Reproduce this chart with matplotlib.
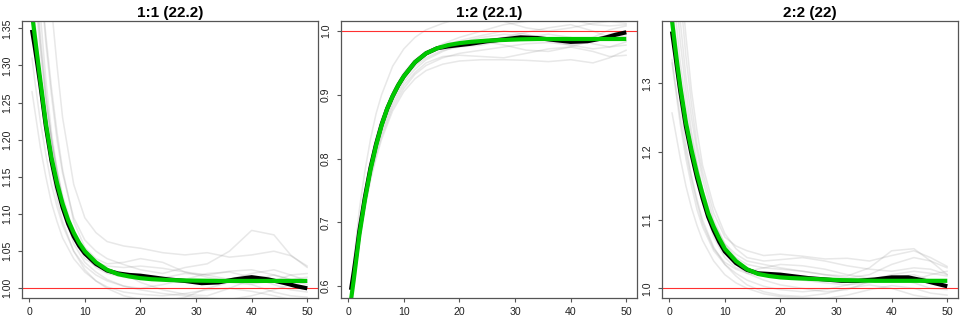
import matplotlib
matplotlib.use("Agg")
import matplotlib.pyplot as plt

plt.rcParams['font.family'] = ['Liberation Sans', 'DejaVu Sans']

# ---- data -------------------------------------------------------------------
titles = ["1:1 (22.2)", "1:2 (22.1)", "2:2 (22)"]

# grid for the mean (black) and fitted (green) curves
x_main = [0.5, 1, 1.5, 2, 3, 4, 5, 6, 7, 8, 9, 10, 12, 14, 16, 18, 20, 22,
          25, 28, 31, 34, 37, 40, 43, 46, 48, 50]

# grid for the individual (grey) curves
x_ind = [0.5, 1, 2, 3, 4, 5, 6, 8, 10, 12, 14, 17, 20, 24, 28, 32, 36, 40,
         44, 47, 50]

mean_11 = [1.348, 1.325, 1.300, 1.274, 1.218, 1.172, 1.137, 1.109, 1.087, 1.070,
           1.057, 1.047, 1.033, 1.024, 1.020, 1.018, 1.017, 1.015, 1.012, 1.010,
           1.007, 1.008, 1.012, 1.015, 1.012, 1.007, 1.003, 1.000]
fit_11 = [1.370, 1.340, 1.310, 1.280, 1.222, 1.176, 1.142, 1.114, 1.092, 1.075,
          1.061, 1.050, 1.035, 1.025, 1.019, 1.016, 1.0137, 1.0123, 1.0112, 1.0106,
          1.0103, 1.010, 1.010, 1.010, 1.010, 1.010, 1.010, 1.010]

mean_12 = [0.594, 0.622, 0.653, 0.686, 0.739, 0.785, 0.822, 0.853, 0.878, 0.898,
           0.915, 0.929, 0.951, 0.965, 0.973, 0.976, 0.978, 0.980, 0.984, 0.987,
           0.990, 0.989, 0.986, 0.983, 0.984, 0.989, 0.994, 0.998]
fit_12 = [0.578, 0.610, 0.645, 0.680, 0.735, 0.782, 0.820, 0.852, 0.878, 0.898,
          0.915, 0.929, 0.951, 0.965, 0.973, 0.978, 0.981, 0.983, 0.985, 0.986,
          0.987, 0.9875, 0.9875, 0.9875, 0.9875, 0.9875, 0.9875, 0.9875]

mean_22 = [1.376, 1.347, 1.317, 1.288, 1.237, 1.197, 1.162, 1.132, 1.105, 1.085,
           1.068, 1.054, 1.037, 1.027, 1.022, 1.021, 1.020, 1.018, 1.015, 1.013,
           1.011, 1.011, 1.013, 1.016, 1.016, 1.011, 1.007, 1.003]
fit_22 = [1.392, 1.358, 1.325, 1.295, 1.243, 1.203, 1.168, 1.138, 1.110, 1.090,
          1.073, 1.058, 1.040, 1.028, 1.021, 1.018, 1.016, 1.015, 1.014, 1.013,
          1.012, 1.0115, 1.011, 1.011, 1.011, 1.011, 1.011, 1.011]

ind_11 = [
    [1.265, 1.24, 1.19, 1.15, 1.115, 1.09, 1.068, 1.04, 1.022, 1.010, 1.002, 0.995, 0.992, 0.990, 0.993, 0.998, 1.000, 0.996, 0.990, 0.985, 0.982],
    [1.31, 1.28, 1.225, 1.18, 1.14, 1.11, 1.085, 1.05, 1.03, 1.018, 1.010, 1.003, 0.998, 0.993, 0.990, 0.987, 0.985, 0.990, 0.998, 1.005, 1.008],
    [1.45, 1.40, 1.32, 1.25, 1.20, 1.16, 1.125, 1.075, 1.045, 1.028, 1.020, 1.015, 1.012, 1.014, 1.020, 1.018, 1.012, 1.020, 1.025, 1.018, 1.010],
    [1.55, 1.48, 1.37, 1.28, 1.21, 1.16, 1.12, 1.068, 1.040, 1.030, 1.026, 1.020, 1.008, 0.998, 0.992, 0.990, 1.000, 1.012, 1.018, 1.012, 1.005],
    [1.70, 1.65, 1.56, 1.47, 1.38, 1.30, 1.23, 1.14, 1.095, 1.075, 1.063, 1.057, 1.054, 1.048, 1.045, 1.048, 1.042, 1.045, 1.050, 1.044, 1.030],
    [1.60, 1.53, 1.42, 1.33, 1.26, 1.20, 1.155, 1.095, 1.065, 1.050, 1.040, 1.032, 1.025, 1.020, 1.028, 1.033, 1.050, 1.078, 1.072, 1.045, 1.028],
    [1.50, 1.44, 1.34, 1.26, 1.20, 1.15, 1.11, 1.06, 1.035, 1.022, 1.012, 1.003, 1.000, 1.005, 1.012, 1.020, 1.022, 1.015, 1.005, 0.998, 0.995],
    [1.58, 1.52, 1.42, 1.34, 1.27, 1.21, 1.16, 1.09, 1.055, 1.040, 1.033, 1.035, 1.040, 1.035, 1.022, 1.015, 1.010, 1.006, 1.010, 1.018, 1.020],
    [1.40, 1.36, 1.29, 1.22, 1.16, 1.12, 1.09, 1.05, 1.025, 1.010, 1.000, 0.990, 0.985, 0.983, 0.988, 1.000, 1.008, 1.005, 0.995, 0.990, 0.988],
    [1.48, 1.42, 1.33, 1.26, 1.20, 1.155, 1.12, 1.07, 1.045, 1.035, 1.030, 1.028, 1.030, 1.027, 1.022, 1.018, 1.023, 1.025, 1.018, 1.012, 1.015],
]

ind_12 = [
    [0.585, 0.62, 0.69, 0.745, 0.79, 0.826, 0.856, 0.90, 0.93, 0.95, 0.965, 0.980, 0.990, 1.000, 1.010, 1.015, 1.020, 1.018, 1.010, 1.008, 1.010],
    [0.60, 0.64, 0.72, 0.78, 0.83, 0.87, 0.90, 0.945, 0.972, 0.99, 1.002, 1.012, 1.020, 1.022, 1.015, 1.005, 1.000, 1.005, 1.012, 1.015, 1.012],
    [0.57, 0.60, 0.665, 0.72, 0.765, 0.80, 0.83, 0.875, 0.905, 0.925, 0.938, 0.948, 0.953, 0.955, 0.955, 0.954, 0.952, 0.955, 0.950, 0.958, 0.970],
    [0.575, 0.61, 0.675, 0.73, 0.775, 0.81, 0.84, 0.885, 0.915, 0.935, 0.95, 0.96, 0.962, 0.960, 0.958, 0.965, 0.972, 0.975, 0.968, 0.960, 0.962],
    [0.59, 0.625, 0.695, 0.75, 0.795, 0.832, 0.862, 0.905, 0.935, 0.955, 0.968, 0.978, 0.985, 0.993, 1.000, 0.995, 0.985, 0.978, 0.985, 0.995, 1.000],
    [0.58, 0.615, 0.685, 0.74, 0.785, 0.82, 0.85, 0.895, 0.925, 0.945, 0.958, 0.970, 0.975, 0.978, 0.985, 0.990, 0.995, 0.990, 0.980, 0.975, 0.978],
    [0.58, 0.612, 0.68, 0.735, 0.78, 0.815, 0.845, 0.89, 0.92, 0.94, 0.955, 0.968, 0.978, 0.985, 0.990, 0.998, 1.005, 1.010, 1.000, 0.990, 0.985],
    [0.59, 0.62, 0.69, 0.745, 0.79, 0.828, 0.858, 0.902, 0.932, 0.952, 0.965, 0.975, 0.980, 0.984, 0.978, 0.970, 0.968, 0.975, 0.985, 0.990, 0.992],
    [0.585, 0.615, 0.68, 0.735, 0.78, 0.818, 0.85, 0.897, 0.928, 0.948, 0.962, 0.974, 0.982, 0.990, 0.995, 0.992, 0.985, 0.982, 0.990, 1.002, 1.008],
    [0.575, 0.605, 0.67, 0.725, 0.77, 0.805, 0.835, 0.88, 0.91, 0.932, 0.946, 0.958, 0.965, 0.970, 0.975, 0.980, 0.982, 0.978, 0.972, 0.975, 0.983],
]

ind_22 = [
    [1.257, 1.235, 1.19, 1.15, 1.118, 1.092, 1.07, 1.04, 1.02, 1.008, 1.0, 0.992, 0.988, 0.986, 0.985, 0.990, 0.998, 1.004, 1.000, 0.993, 0.990],
    [1.33, 1.30, 1.24, 1.19, 1.15, 1.115, 1.09, 1.055, 1.035, 1.022, 1.012, 1.003, 0.998, 0.995, 0.998, 1.005, 1.012, 1.020, 1.025, 1.022, 1.018],
    [1.335, 1.305, 1.25, 1.20, 1.16, 1.125, 1.095, 1.058, 1.038, 1.028, 1.022, 1.018, 1.015, 1.012, 1.008, 1.005, 1.008, 1.015, 1.020, 1.012, 1.005],
    [1.45, 1.41, 1.33, 1.27, 1.22, 1.18, 1.145, 1.095, 1.065, 1.050, 1.040, 1.035, 1.030, 1.025, 1.020, 1.015, 1.020, 1.035, 1.045, 1.040, 1.030],
    [1.60, 1.54, 1.43, 1.34, 1.27, 1.21, 1.17, 1.11, 1.075, 1.062, 1.055, 1.048, 1.050, 1.047, 1.043, 1.044, 1.040, 1.048, 1.055, 1.045, 1.032],
    [1.55, 1.49, 1.39, 1.31, 1.25, 1.20, 1.16, 1.10, 1.065, 1.045, 1.035, 1.030, 1.028, 1.025, 1.020, 1.018, 1.030, 1.055, 1.058, 1.040, 1.020],
    [1.50, 1.45, 1.36, 1.29, 1.23, 1.185, 1.145, 1.09, 1.055, 1.035, 1.022, 1.012, 1.005, 1.000, 0.995, 0.998, 1.010, 1.015, 1.008, 1.000, 0.998],
    [1.42, 1.38, 1.31, 1.25, 1.20, 1.16, 1.125, 1.075, 1.045, 1.030, 1.025, 1.030, 1.035, 1.033, 1.028, 1.020, 1.015, 1.010, 1.012, 1.020, 1.025],
    [1.38, 1.34, 1.27, 1.21, 1.165, 1.13, 1.10, 1.06, 1.035, 1.018, 1.005, 0.995, 0.990, 0.988, 0.992, 1.000, 1.005, 1.000, 0.990, 0.986, 0.985],
    [1.65, 1.58, 1.46, 1.37, 1.29, 1.23, 1.18, 1.12, 1.08, 1.058, 1.045, 1.040, 1.042, 1.045, 1.040, 1.033, 1.028, 1.025, 1.030, 1.028, 1.020],
]

y_limits = [(0.9874, 1.3603), (0.5817, 1.0162), (0.9863, 1.3917)]
y_ticks = [[1.00, 1.05, 1.10, 1.15, 1.20, 1.25, 1.30, 1.35],
           [0.6, 0.7, 0.8, 0.9, 1.0],
           [1.0, 1.1, 1.2, 1.3]]
y_fmt = ["{:.2f}", "{:.1f}", "{:.1f}"]
x_ticks = [0, 10, 20, 30, 40, 50]

panels = [(ind_11, mean_11, fit_11), (ind_12, mean_12, fit_12), (ind_22, mean_22, fit_22)]

# ---- figure -----------------------------------------------------------------
W, H = 960, 320
fig = plt.figure(figsize=(9.6, 3.2), dpi=100)
lefts = [21.7, 340.7, 661.7]
frame_col = "#555555"

for i, (ind, mean, fit) in enumerate(panels):
    ax = fig.add_axes([lefts[i] / W, 1 - 297.7 / H, 296.6 / W, 277.0 / H])

    for curve in ind:
        ax.plot(x_ind, curve, color=(0.55, 0.55, 0.55), alpha=0.2, lw=1.1,
                solid_capstyle="round", solid_joinstyle="round")
    ax.axhline(1.0, color="#ff3030", lw=0.8)
    ax.plot(x_main, mean, color="black", lw=3.0, solid_capstyle="butt",
            solid_joinstyle="round")
    ax.plot(x_main, fit, color="#00c800", lw=3.0, solid_capstyle="butt",
            solid_joinstyle="round")

    ax.set_xlim(-1.35, 51.98)
    ax.set_ylim(*y_limits[i])
    ax.set_xticks(x_ticks)
    ax.set_yticks(y_ticks[i])
    ax.set_yticklabels([y_fmt[i].format(v) for v in y_ticks[i]],
                       rotation=90, va="center")
    ax.tick_params(axis="both", direction="out", length=3, width=0.8,
                   color=frame_col, labelsize=7.6, labelcolor="#222222")
    ax.tick_params(axis="y", pad=4)
    ax.tick_params(axis="x", pad=4)
    for sp in ax.spines.values():
        sp.set_color(frame_col)
        sp.set_linewidth(0.9)
    ax.set_title(titles[i], fontsize=11, fontweight="bold", pad=3)

fig.savefig("out.png", dpi=100)
